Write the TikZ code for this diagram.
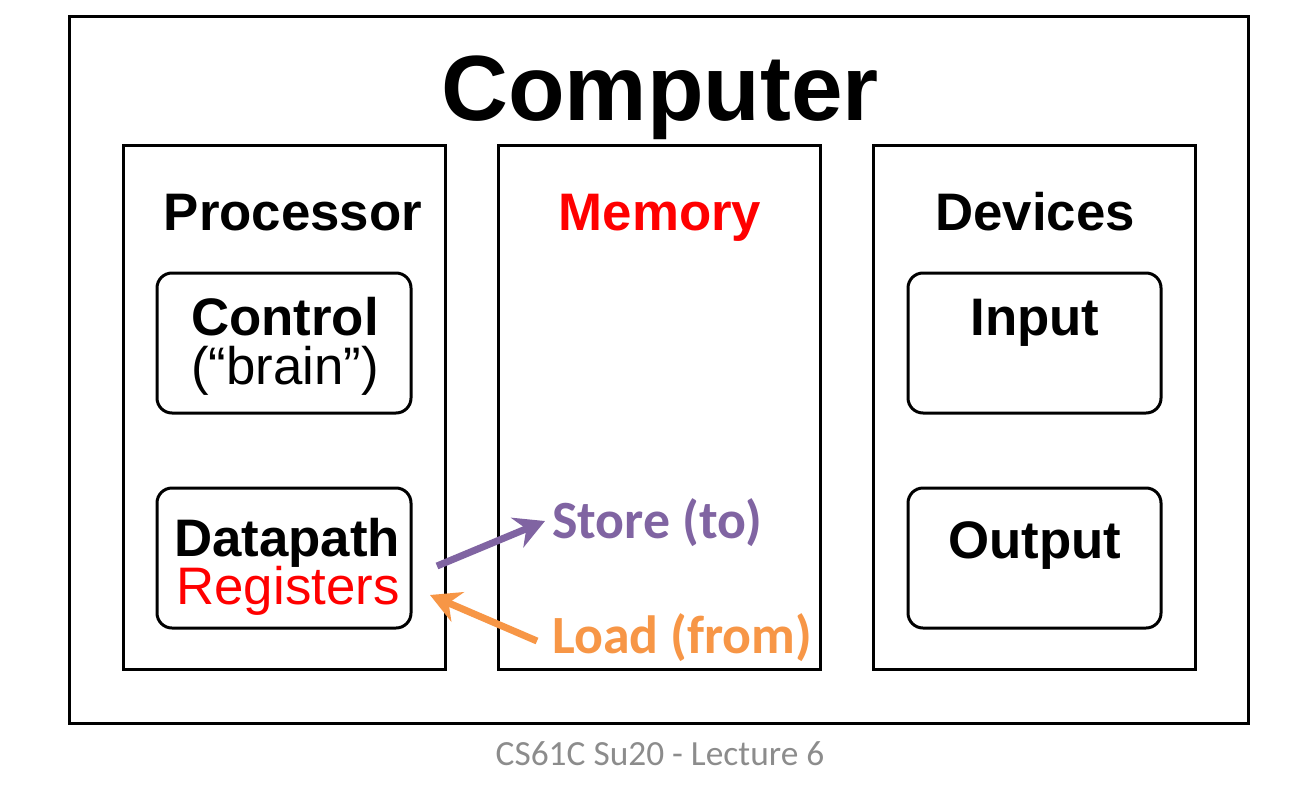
\documentclass[tikz,border=0pt]{standalone}
\usepackage{fontspec}
\setmainfont{Liberation Sans}
\newfontfamily\califont{Carlito}
\usetikzlibrary{arrows.meta}
\definecolor{storec}{HTML}{8064A2}
\definecolor{loadc}{HTML}{F79646}
\definecolor{footc}{HTML}{8C8C8C}
\begin{document}
\begin{tikzpicture}[x=1bp,y=-1bp,
  frame/.style={draw=black,line width=3bp,fill=white,inner sep=0pt},
  sect/.style={frame,minimum width=322bp,minimum height=523bp},
  unit/.style={frame,rounded corners=15bp,minimum width=254bp,minimum height=140bp},
  big/.style={font=\fontsize{93}{100}\selectfont\bfseries,inner sep=0pt,anchor=base},
  head/.style={font=\fontsize{53}{58}\selectfont\bfseries,inner sep=0pt,anchor=base},
  reg/.style={font=\fontsize{53}{58}\selectfont,inner sep=0pt,anchor=base},
  cal/.style={font=\fontsize{54}{58}\selectfont\califont\bfseries,inner sep=0pt,anchor=base west},
  arr/.style={line width=7bp,-{Stealth[length=30bp,width=32bp]}}
]
\useasboundingbox (0,0) rectangle (1316,784);
\node[frame,minimum width=1178bp,minimum height=706bp] (computer) at (659,370) {};
\node[big] (title) at (660,120) {Computer};
\node[sect] (proc) at (284,407.5) {};
\node[sect] (mem) at (659,407.5) {};
\node[sect] (dev) at (1034.5,407.5) {};
\node[head] (proct) at (293,230) {Processor};
\node[head,text=red] (memt) at (660,230) {Memory};
\node[head] (devt) at (1035,230) {Devices};
\node[unit] (ctrl) at (284,343) {};
\node[head] (ctrlt) at (285,335) {Control};
\node[reg] (brain) at (285,384) {(“brain”)};
\node[unit] (dp) at (284,558) {};
\node[head] (dpt) at (287,556) {Datapath};
\node[reg,text=red] (regs) at (288,604) {Registers};
\node[unit,minimum width=253bp] (inp) at (1034.5,343) {};
\node[head] (inpt) at (1035,335) {Input};
\node[unit,minimum width=253bp] (outp) at (1034.5,558) {};
\node[head] (outpt) at (1035,558) {Output};
\node[cal,text=storec] (store) at (552,538) {Store (to)};
\node[cal,text=loadc] (load) at (552,653) {Load (from)};
\coordinate (stail) at (437,566);
\coordinate (stip) at (545,521);
\coordinate (ltail) at (537,641);
\coordinate (ltip) at (430,595);
\draw[arr,storec] (stail) -- (stip);
\draw[arr,loadc] (ltail) -- (ltip);
\node[font=\fontsize{35.5}{40}\selectfont\califont,text=footc,inner sep=0pt,anchor=base] (foot) at (660,765) {CS61C Su20 - Lecture 6};
\end{tikzpicture}
\end{document}
